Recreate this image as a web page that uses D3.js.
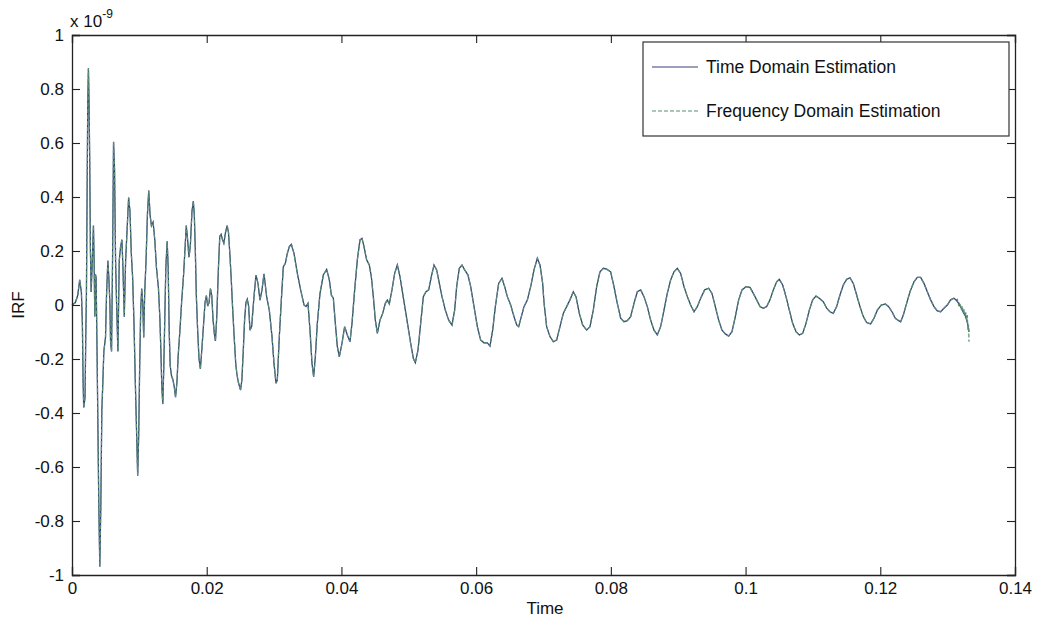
<!DOCTYPE html>
<html>
<head>
<meta charset="utf-8">
<script src="https://cdn.jsdelivr.net/npm/d3@7"></script>
<style>
  html, body { margin: 0; padding: 0; background: #ffffff; }
  svg { display: block; }
  text { font-family: "Liberation Sans", Arial, sans-serif; fill: #111; }
</style>
</head>
<body>
<svg id="chart" width="1039" height="623"></svg>
<script>
// ---- Data (IRF in units of 1e-9, time in seconds) ----
const xTicks = [0, 0.02, 0.04, 0.06, 0.08, 0.1, 0.12, 0.14];
const yTicks = [-1, -0.8, -0.6, -0.4, -0.2, 0, 0.2, 0.4, 0.6, 0.8, 1];
const seriesNames = ["Time Domain Estimation", "Frequency Domain Estimation"];

// common part of both estimates (they overlap almost everywhere)
const irfCommon = [
[0,0],[0.000498,0.009],[0.000846,0.035],[0.001144,0.093],[0.001393,0.048],[0.001542,-0.069],
[0.001642,-0.276],[0.001741,-0.38],[0.00194,-0.341],[0.00204,-0.12],[0.00214,0.035],[0.002239,0.398],
[0.002338,0.747],[0.002438,0.877],[0.002537,0.747],[0.002637,0.514],[0.002736,0.203],[0.002836,0.048],
[0.002985,0.139],[0.003085,0.216],[0.003184,0.294],[0.003284,0.165],[0.003383,-0.043],[0.003483,0.113],
[0.003582,0.1],[0.003731,-0.198],[0.003831,-0.418],[0.00398,-0.742],[0.004129,-0.969],[0.004279,-0.742],
[0.004428,-0.392],[0.004577,-0.289],[0.004726,-0.172],[0.004975,-0.12],[0.005124,0.035],[0.005323,0.165],
[0.005473,0.1],[0.005622,0.009],[0.005721,-0.133],[0.005871,-0.172],[0.00602,0.165],[0.006169,0.605],
[0.006318,0.501],[0.006468,0.165],[0.006617,0.009],[0.006816,-0.172],[0.007015,0.165],[0.007214,0.216],
[0.007413,0.242],[0.007562,0.139],[0.007761,-0.043],[0.00796,0.165],[0.008159,0.268],[0.008408,0.398],
[0.008607,0.346],[0.008806,0.19],[0.009005,0.1],[0.009204,-0.069],[0.009403,-0.289],[0.009602,-0.483],
[0.009751,-0.632],[0.0099,-0.483],[0.01005,-0.224],[0.0102,-0.017],[0.010348,0.061],[0.010498,0.009],
[0.010647,-0.12],[0.010796,0.048],[0.010995,0.165],[0.011194,0.333],[0.011393,0.424],[0.011592,0.333],
[0.011791,0.294],[0.01204,0.307],[0.012289,0.242],[0.012537,0.139],[0.012836,0.061],[0.013035,-0.043],
[0.013184,-0.159],[0.013333,-0.302],[0.013483,-0.367],[0.013632,-0.224],[0.013781,-0.043],[0.01393,0.139],
[0.014129,0.236],[0.014279,0.139],[0.014428,-0.095],[0.014577,-0.224],[0.014776,-0.263],[0.014975,-0.276],
[0.015174,-0.302],[0.015373,-0.341],[0.015572,-0.289],[0.015771,-0.185],[0.01602,-0.095],[0.016269,0.009],
[0.016567,0.113],[0.016766,0.203],[0.016965,0.294],[0.017164,0.242],[0.017363,0.177],[0.017562,0.216],
[0.017811,0.346],[0.01801,0.385],[0.018159,0.333],[0.018308,0.203],[0.018458,0.035],[0.018657,-0.095],
[0.018856,-0.198],[0.019055,-0.237],[0.019254,-0.172],[0.019502,-0.082],[0.019751,0.009],[0.01995,0.035],
[0.020149,-0.004],[0.020348,0.009],[0.020547,0.061],[0.020746,0.035],[0.020945,-0.056],[0.021144,-0.108],
[0.021294,-0.133],[0.021493,-0.043],[0.021741,0.139],[0.02194,0.255],[0.022139,0.262],[0.022338,0.242],
[0.022537,0.229],[0.022786,0.268],[0.023035,0.294],[0.023234,0.268],[0.023433,0.19],[0.023632,0.1],
[0.023831,-0.004],[0.02408,-0.12],[0.024328,-0.224],[0.024527,-0.263],[0.024726,-0.289],[0.025025,-0.315],
[0.025224,-0.276],[0.025423,-0.172],[0.025622,-0.056],[0.025821,0.009],[0.02602,0.022],[0.026219,-0.004],
[0.026425,-0.093],[0.02667,-0.08],[0.027019,0.031],[0.027316,0.111],[0.027613,0.08],[0.02791,0.018],
[0.028207,0.056],[0.028504,0.115],[0.0289,0.031],[0.029295,-0.019],[0.029691,-0.117],[0.029988,-0.216],
[0.030285,-0.29],[0.030483,-0.278],[0.03078,-0.117],[0.031077,0.018],[0.031374,0.142],[0.031671,0.154],
[0.031968,0.191],[0.032265,0.216],[0.032562,0.225],[0.032958,0.191],[0.033453,0.117],[0.033948,0.056],
[0.034442,0],[0.03474,-0.006],[0.035036,0.006],[0.035333,-0.093],[0.03563,-0.216],[0.035878,-0.266],
[0.036125,-0.192],[0.036422,-0.068],[0.036818,0.043],[0.037313,0.111],[0.037808,0.132],[0.038204,0.093],
[0.038501,0.037],[0.038798,0.025],[0.039095,-0.068],[0.039392,-0.154],[0.039689,-0.192],[0.040084,-0.142],
[0.04048,-0.08],[0.040876,-0.111],[0.041272,-0.136],[0.041569,-0.068],[0.041965,0.056],[0.04236,0.167],
[0.042756,0.241],[0.043053,0.247],[0.04335,0.216],[0.043746,0.167],[0.044142,0.148],[0.044439,0.105],
[0.044736,0.031],[0.045033,-0.056],[0.04533,-0.105],[0.045726,-0.056],[0.046122,-0.031],[0.046518,0.006],
[0.046815,0.018],[0.047112,0.004],[0.047508,0.056],[0.047904,0.117],[0.048299,0.148],[0.048695,0.105],
[0.049091,0.043],[0.049487,-0.019],[0.049883,-0.08],[0.050279,-0.142],[0.050675,-0.198],[0.050972,-0.214],
[0.051368,-0.167],[0.051764,-0.068],[0.05216,0.031],[0.052556,0.049],[0.052952,0.056],[0.053348,0.105],
[0.053743,0.148],[0.054139,0.13],[0.054535,0.08],[0.054931,0.031],[0.055426,-0.019],[0.055921,-0.056],
[0.056416,-0.074],[0.056811,-0.019],[0.057108,0.068],[0.057504,0.136],[0.0579,0.148],[0.058296,0.13],
[0.058791,0.111],[0.059187,0.068],[0.059682,-0.006],[0.060177,-0.08],[0.060671,-0.13],[0.061166,-0.14],
[0.061661,-0.14],[0.062057,-0.152],[0.062453,-0.093],[0.062849,-0.006],[0.063344,0.08],[0.063839,0.099],
[0.064235,0.068],[0.06463,0.031],[0.065125,0],[0.06562,-0.043],[0.066016,-0.074],[0.066313,-0.08],
[0.066709,-0.043],[0.067105,-0.006],[0.0676,0.018],[0.068095,0.068],[0.06859,0.13],[0.069085,0.173],
[0.06948,0.148],[0.069876,0.08],[0.070071,0.01],[0.070467,-0.08],[0.070962,-0.117],[0.071457,-0.136],
[0.071952,-0.13],[0.072446,-0.08],[0.072941,-0.031],[0.073436,-0.006],[0.073931,0.019],[0.074426,0.049],
[0.074822,0.031],[0.075317,-0.031],[0.075812,-0.074],[0.076405,-0.093],[0.0769,-0.08],[0.077395,-0.019],
[0.07789,0.068],[0.078385,0.123],[0.07888,0.136],[0.079375,0.133],[0.079969,0.123],[0.080464,0.068],
[0.080959,0.006],[0.081454,-0.049],[0.081948,-0.062],[0.082443,-0.058],[0.082938,-0.043],[0.083433,0.006],
[0.083928,0.049],[0.084423,0.056],[0.084918,0.031],[0.085413,-0.006],[0.085908,-0.056],[0.086403,-0.093],
[0.086898,-0.111],[0.087393,-0.08],[0.087887,-0.019],[0.088382,0.043],[0.088877,0.093],[0.089372,0.123],
[0.089867,0.136],[0.090362,0.117],[0.090857,0.068],[0.091352,0.031],[0.091847,0],[0.092342,-0.025],
[0.092837,-0.006],[0.093332,0.025],[0.093926,0.056],[0.09452,0.062],[0.095014,0.043],[0.095509,-0.006],
[0.096004,-0.056],[0.096499,-0.093],[0.096994,-0.107],[0.097489,-0.115],[0.097984,-0.099],[0.098479,-0.043],
[0.098974,0.019],[0.099469,0.056],[0.100063,0.068],[0.100656,0.065],[0.101151,0.043],[0.101646,0.019],
[0.102141,-0.006],[0.102636,-0.012],[0.103131,-0.006],[0.103626,0.019],[0.104121,0.056],[0.104616,0.086],
[0.105012,0.095],[0.105507,0.074],[0.106002,0.031],[0.106497,-0.019],[0.106991,-0.068],[0.107486,-0.099],
[0.107981,-0.111],[0.108476,-0.105],[0.108971,-0.068],[0.109466,-0.019],[0.109961,0.019],[0.110456,0.033],
[0.110951,0.025],[0.11154,0.012],[0.112035,-0.012],[0.11253,-0.025],[0.113025,-0.031],[0.11352,-0.006],
[0.114014,0.037],[0.114509,0.074],[0.115004,0.095],[0.115499,0.101],[0.115994,0.08],[0.116489,0.037],
[0.116984,-0.006],[0.117479,-0.043],[0.117974,-0.065],[0.118567,-0.07],[0.119062,-0.049],[0.119557,-0.019],
[0.120151,0],[0.120745,0.004],[0.12124,-0.006],[0.121735,-0.025],[0.12223,-0.049],[0.122725,-0.058],
[0.123022,-0.062],[0.123418,-0.037],[0.123912,0.006],[0.124407,0.049],[0.125001,0.086],[0.125496,0.102],
[0.125991,0.102],[0.126486,0.08],[0.126981,0.049],[0.127476,0.019],[0.127971,-0.006],[0.128466,-0.022],
[0.128961,-0.025],[0.129455,-0.012],[0.12995,0],[0.130445,0.019],[0.13094,0.025]
];
// end of the record, where the two estimates differ
const timeDomainTail = [
[0.131237,0.019],[0.131632,0.006],[0.132028,-0.012],[0.132325,-0.028],[0.132622,-0.04],
[0.13282,-0.055],[0.133018,-0.075],[0.133167,-0.1]
];
const freqDomainTail = [
[0.131237,0.019],[0.131434,0.021],[0.131632,0],[0.13183,0.009],[0.132028,-0.019],[0.132176,-0.004],
[0.132325,-0.031],[0.132474,-0.016],[0.132622,-0.043],[0.132721,-0.028],[0.13282,-0.062],[0.132919,-0.037],
[0.133018,-0.093],[0.133118,-0.074],[0.133167,-0.136]
];

// ---- Layout ----
const svg = d3.select("#chart");
const L = 72, R = 1015, T = 35, B = 575;
const x = d3.scaleLinear().domain([0, 0.14]).range([L, R]);
const y = d3.scaleLinear().domain([-1, 1]).range([B, T]);
const tickLen = 8;
const fontSize = 17;

const line = d3.line().x(d => x(d[0])).y(d => y(d[1]));

const timeSeries = irfCommon.concat(timeDomainTail);
const freqSeries = irfCommon.concat(freqDomainTail);

const timeColor = "#34407c";
const freqColor = "#5a8f72";

// series
svg.append("path").datum(timeSeries)
  .attr("d", line).attr("fill", "none")
  .attr("stroke", timeColor).attr("stroke-width", 1.3);
svg.append("path").datum(freqSeries)
  .attr("d", line).attr("fill", "none")
  .attr("stroke", freqColor).attr("stroke-width", 1.2)
  .attr("stroke-dasharray", "4,2");

// axes (MATLAB-like box with inward ticks), plain hyphen minus signs
const fmt = d => String(+d.toFixed(2));
const gx = svg.append("g").attr("transform", `translate(0,${B})`)
  .call(d3.axisBottom(x).tickValues(xTicks).tickSize(-tickLen).tickPadding(7).tickFormat(fmt));
const gxt = svg.append("g").attr("transform", `translate(0,${T})`)
  .call(d3.axisTop(x).tickValues(xTicks).tickSize(-tickLen).tickFormat(""));
const gy = svg.append("g").attr("transform", `translate(${L},0)`)
  .call(d3.axisLeft(y).tickValues(yTicks).tickSize(-tickLen).tickPadding(8).tickFormat(fmt));
const gyr = svg.append("g").attr("transform", `translate(${R},0)`)
  .call(d3.axisRight(y).tickValues(yTicks).tickSize(-tickLen).tickFormat(""));

[gx, gxt, gy, gyr].forEach(g => {
  g.select(".domain").attr("stroke", "#222").attr("stroke-width", 1.3);
  g.selectAll(".tick line").attr("stroke", "#222").attr("stroke-width", 1.1);
  g.selectAll(".tick text").attr("font-size", fontSize)
    .attr("font-family", "'Liberation Sans', Arial, sans-serif").attr("fill", "#111");
});

// axis labels
svg.append("text").attr("x", 545).attr("y", 614)
  .attr("text-anchor", "middle").attr("font-size", fontSize).text("Time");
svg.append("text").attr("transform", `translate(24,${(T + B) / 2}) rotate(-90)`)
  .attr("text-anchor", "middle").attr("font-size", fontSize).text("IRF");

// exponent label
const expo = svg.append("text").attr("x", 70).attr("y", 27).attr("font-size", fontSize);
expo.append("tspan").text("x 10");
expo.append("tspan").attr("dy", -9).attr("font-size", 12).text("-9");

// legend
const lg = svg.append("g");
lg.append("rect").attr("x", 643).attr("y", 42).attr("width", 366).attr("height", 94)
  .attr("fill", "#fff").attr("stroke", "#333").attr("stroke-width", 1.2);
const legendRows = [
  { name: seriesNames[0], color: timeColor, dash: null, yy: 67 },
  { name: seriesNames[1], color: freqColor, dash: "4,2", yy: 111 }
];
legendRows.forEach(r => {
  lg.append("line").attr("x1", 652).attr("x2", 698).attr("y1", r.yy).attr("y2", r.yy)
    .attr("stroke", r.color).attr("stroke-width", 1.2)
    .attr("stroke-dasharray", r.dash);
  lg.append("text").attr("x", 706).attr("y", r.yy).attr("dy", "0.35em")
    .attr("font-size", 17.5).text(r.name);
});
</script>
</body>
</html>
